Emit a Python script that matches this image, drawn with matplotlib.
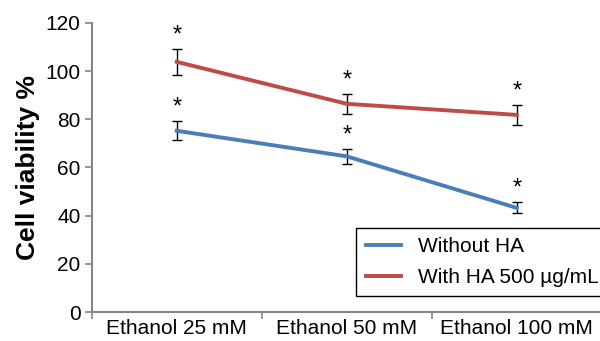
import matplotlib
matplotlib.use("Agg")
import matplotlib.pyplot as plt
from matplotlib.lines import Line2D

plt.rcParams['font.family'] = ['Liberation Sans', 'DejaVu Sans']

categories = ['Ethanol 25 mM', 'Ethanol 50 mM', 'Ethanol 100 mM']
without_ha = [75.2, 64.6, 43.2]
without_ha_err = [3.9, 3.1, 2.3]
with_ha = [103.8, 86.4, 81.8]
with_ha_err = [5.4, 4.1, 4.2]

blue = '#4a7ebb'
red = '#be4b48'
grey = '#868686'

fig = plt.figure(figsize=(6, 3.41), dpi=100)
ax = fig.add_axes([0.153, 0.085, 0.85, 0.848])

x = list(range(len(categories)))
ax.errorbar(x, without_ha, yerr=without_ha_err, color=blue, lw=2.8, ecolor='black',
            elinewidth=1, capsize=3.5, capthick=1, zorder=3)
ax.errorbar(x, with_ha, yerr=with_ha_err, color=red, lw=2.8, ecolor='black',
            elinewidth=1, capsize=3.5, capthick=1, zorder=3)

# significance marks above the error bars
for i in x:
    ax.text(i, without_ha[i] + without_ha_err[i] + 1.0, '*', ha='center', va='bottom', fontsize=17)
    ax.text(i, with_ha[i] + with_ha_err[i] + 1.0, '*', ha='center', va='bottom', fontsize=17)

ax.set_xlim(-0.5, 2.5)
ax.set_ylim(0, 120)
ax.set_yticks(range(0, 121, 20))
ax.set_xticks(x)
ax.set_xticklabels(categories)
ax.set_xticks([-0.5, 0.5, 1.5, 2.5], minor=True)
ax.tick_params(axis='x', which='major', length=0, labelsize=15, pad=5)
ax.tick_params(axis='x', which='minor', length=5, color=grey, width=1.2)
ax.tick_params(axis='y', length=5, color=grey, width=1.2, labelsize=15, pad=3)

for s in ['top', 'right']:
    ax.spines[s].set_visible(False)
for s in ['left', 'bottom']:
    ax.spines[s].set_color(grey)
    ax.spines[s].set_linewidth(1.5)

ax.set_ylabel('Cell viability %', fontsize=19, fontweight='bold', labelpad=4)

handles = [Line2D([], [], color=blue, lw=2.8), Line2D([], [], color=red, lw=2.8)]
leg = ax.legend(handles, ['Without HA', 'With HA 500 µg/mL'], loc='lower right',
                bbox_to_anchor=(1.02, 0.04), fontsize=15,
                frameon=True, fancybox=False, edgecolor='black', framealpha=1,
                handlelength=1.7, borderpad=0.45, labelspacing=0.55, handletextpad=0.8,
                borderaxespad=0.2)
leg.get_frame().set_linewidth(1)

fig.savefig('out.png', dpi=100)
